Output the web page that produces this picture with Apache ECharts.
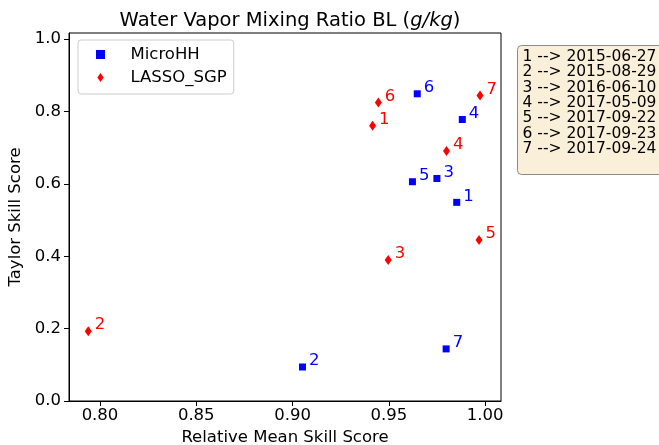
<!DOCTYPE html>
<html>
<head>
<meta charset="utf-8">
<script src="https://cdn.jsdelivr.net/npm/echarts@6/dist/echarts.min.js"></script>
<style>html,body{margin:0;padding:0;background:#fff}#c{width:659px;height:445px}</style>
</head>
<body>
<div id="c"></div>
<script>
// ---- data ----
const caseIds = ['1', '2', '3', '4', '5', '6', '7'];
const caseDates = ['2015-06-27', '2015-08-29', '2016-06-10', '2017-05-09', '2017-09-22', '2017-09-23', '2017-09-24'];
const microX = [0.9853, 0.9052, 0.9750, 0.9882, 0.9623, 0.9648, 0.9798];
const microY = [0.549, 0.094, 0.615, 0.778, 0.606, 0.849, 0.144];
const lassoX = [0.9416, 0.7939, 0.9497, 0.9800, 0.9969, 0.9446, 0.9974];
const lassoY = [0.761, 0.193, 0.390, 0.691, 0.445, 0.825, 0.844];
const xTicks = [0.80, 0.85, 0.90, 0.95, 1.00];
const yTicks = [0.0, 0.2, 0.4, 0.6, 0.8, 1.0];
const seriesNames = ['MicroHH', 'LASSO_SGP'];

const FONT = 'DejaVu Sans';
const FS = 16.5;
const chart = echarts.init(document.getElementById('c'), null, {renderer: 'canvas'});
const pts = (xs, ys) => xs.map((x, i) => [x, ys[i]]);
const lbl = (color) => ({
  show: true, position: 'right', distance: 3, offset: [0, -6],
  formatter: p => caseIds[p.dataIndex], color: color, fontSize: 16.5, fontFamily: FONT
});

chart.setOption({
  animation: false,
  textStyle: {fontFamily: FONT},
  title: {
    text: '{a|Water Vapor Mixing Ratio BL (}{i|g/kg}{a|)}',
    left: 285, top: 6, textAlign: 'center',
    textStyle: {
      fontWeight: 'normal',
      rich: {
        a: {fontSize: 19.5, fontFamily: FONT, fontWeight: 'normal', color: '#000'},
        i: {fontSize: 19.5, fontFamily: FONT, fontWeight: 'normal', fontStyle: 'italic', color: '#000'}
      }
    }
  },
  grid: {left: 69, right: 158, top: 33, bottom: 44, outerBoundsMode: 'none', containLabel: false,
         show: true, borderColor: '#000', borderWidth: 1, backgroundColor: '#fff'},
  legend: {
    left: 78, top: 40, orient: 'vertical',
    padding: [6, 7, 8, 18], itemGap: 6, itemWidth: 28, itemHeight: 9,
    borderColor: '#cccccc', borderWidth: 1, borderRadius: 3, backgroundColor: '#fff',
    textStyle: {fontSize: FS, fontFamily: FONT, color: '#000', lineHeight: 17, padding: [0, 0, 0, 11]},
    data: [
      {name: seriesNames[0], icon: 'path://M0,0L7,0L7,7L0,7Z'},
      {name: seriesNames[1], icon: 'path://M0,-5L3.5,0L0,5L-3.5,0Z'}
    ]
  },
  xAxis: {
    type: 'value', min: 0.7839, max: 1.0083,
    name: 'Relative Mean Skill Score', nameLocation: 'middle', nameGap: 27,
    nameTextStyle: {fontSize: FS, fontFamily: FONT, color: '#000'},
    splitLine: {show: false},
    axisLine: {show: true, onZero: false, lineStyle: {color: '#000', width: 1}},
    axisTick: {show: true, length: 5, customValues: xTicks, lineStyle: {color: '#000'}},
    axisLabel: {customValues: xTicks, formatter: v => v.toFixed(2), fontSize: FS, fontFamily: FONT, color: '#000', margin: 6}
  },
  yAxis: {
    type: 'value', min: 0, max: 1.017,
    name: 'Taylor Skill Score', nameLocation: 'middle', nameGap: 37,
    nameTextStyle: {fontSize: FS, fontFamily: FONT, color: '#000'},
    splitLine: {show: false},
    axisLine: {show: true, onZero: false, lineStyle: {color: '#000', width: 1}},
    axisTick: {show: true, length: 5, customValues: yTicks, lineStyle: {color: '#000'}},
    axisLabel: {customValues: yTicks, formatter: v => v.toFixed(1), fontSize: FS, fontFamily: FONT, color: '#000', margin: 8}
  },
  series: [
    {
      name: seriesNames[0], type: 'scatter', symbol: 'rect', symbolSize: 7,
      itemStyle: {color: '#0000ff', opacity: 1}, data: pts(microX, microY), label: lbl('#0000ff')
    },
    {
      name: seriesNames[1], type: 'scatter', symbol: 'diamond', symbolSize: [7, 10],
      itemStyle: {color: '#ff0000', opacity: 1}, data: pts(lassoX, lassoY), label: lbl('#ff0000')
    }
  ],
  graphic: [{
    type: 'group', left: 517, top: 45,
    children: [
      {type: 'rect', shape: {x: 0, y: 0, width: 150, height: 129, r: 4},
       style: {fill: '#faefd9', stroke: '#8a8a8a', lineWidth: 1}},
      {type: 'text', x: 5, y: 4,
       style: {text: caseIds.map((id, i) => id + ' --> ' + caseDates[i]).join('\n'),
               font: '15.5px "DejaVu Sans"', lineHeight: 15.3, fill: '#000'}}
    ]
  }]
});
</script>
</body>
</html>
